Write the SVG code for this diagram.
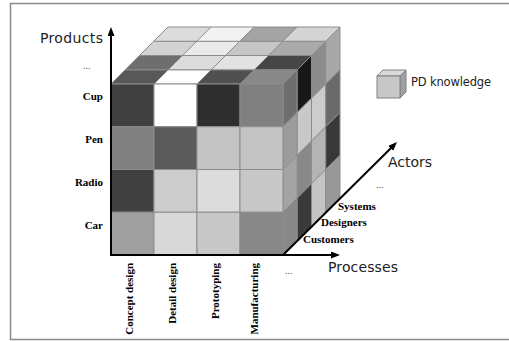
<svg xmlns="http://www.w3.org/2000/svg" width="509" height="341" viewBox="0 0 509 341">
<style>
.c{stroke:#8c8c8c;stroke-width:1;stroke-linejoin:round}
.ax{stroke:#000;stroke-width:2;fill:none}
.sans{font-family:"DejaVu Sans","Liberation Sans",sans-serif;fill:#222}
.ser{font-family:"Liberation Serif","Times New Roman",serif;font-weight:bold;font-size:11px;fill:#000}
.dots{font-family:"Liberation Serif",serif;font-size:10px;fill:#555}
</style>
<defs>
<marker id="ah" markerUnits="userSpaceOnUse" markerWidth="10" markerHeight="8" refX="1" refY="3.5" orient="auto">
<path d="M0,0 L9,3.5 L0,7 z" fill="#000"/>
</marker>
</defs>
<rect width="509" height="341" fill="#fff"/>
<rect x="10.5" y="3.5" width="520" height="336" fill="none" stroke="#8a8a8a" stroke-width="1.5"/>

<g id="cube">
<g id="top-face">
<polygon class="c" fill="#585858" points="111,84 154,84 168.25,69.75 125.25,69.75"/>
<polygon class="c" fill="#ffffff" points="154,84 197,84 211.25,69.75 168.25,69.75"/>
<polygon class="c" fill="#505050" points="197,84 240,84 254.25,69.75 211.25,69.75"/>
<polygon class="c" fill="#888888" points="240,84 283,84 297.25,69.75 254.25,69.75"/>
<polygon class="c" fill="#6e6e6e" points="125.25,69.75 168.25,69.75 182.5,55.5 139.5,55.5"/>
<polygon class="c" fill="#dcdcdc" points="168.25,69.75 211.25,69.75 225.5,55.5 182.5,55.5"/>
<polygon class="c" fill="#e2e2e2" points="211.25,69.75 254.25,69.75 268.5,55.5 225.5,55.5"/>
<polygon class="c" fill="#464646" points="254.25,69.75 297.25,69.75 311.5,55.5 268.5,55.5"/>
<polygon class="c" fill="#d2d2d2" points="139.5,55.5 182.5,55.5 196.75,41.25 153.75,41.25"/>
<polygon class="c" fill="#eaeaea" points="182.5,55.5 225.5,55.5 239.75,41.25 196.75,41.25"/>
<polygon class="c" fill="#c6c6c6" points="225.5,55.5 268.5,55.5 282.75,41.25 239.75,41.25"/>
<polygon class="c" fill="#aaaaaa" points="268.5,55.5 311.5,55.5 325.75,41.25 282.75,41.25"/>
<polygon class="c" fill="#dcdcdc" points="153.75,41.25 196.75,41.25 211,27 168,27"/>
<polygon class="c" fill="#f2f2f2" points="196.75,41.25 239.75,41.25 254,27 211,27"/>
<polygon class="c" fill="#a4a4a4" points="239.75,41.25 282.75,41.25 297,27 254,27"/>
<polygon class="c" fill="#d4d4d4" points="282.75,41.25 325.75,41.25 340,27 297,27"/>
</g>
<g id="right-face">
<polygon class="c" fill="#6e6e6e" points="283,84 297.25,69.75 297.25,112.5 283,126.75"/>
<polygon class="c" fill="#9c9c9c" points="283,126.75 297.25,112.5 297.25,155.25 283,169.5"/>
<polygon class="c" fill="#a4a4a4" points="283,169.5 297.25,155.25 297.25,198 283,212.25"/>
<polygon class="c" fill="#888888" points="283,212.25 297.25,198 297.25,240.75 283,255"/>
<polygon class="c" fill="#181818" points="297.25,69.75 311.5,55.5 311.5,98.25 297.25,112.5"/>
<polygon class="c" fill="#c8c8c8" points="297.25,112.5 311.5,98.25 311.5,141 297.25,155.25"/>
<polygon class="c" fill="#888888" points="297.25,155.25 311.5,141 311.5,183.75 297.25,198"/>
<polygon class="c" fill="#3a3a3a" points="297.25,198 311.5,183.75 311.5,226.5 297.25,240.75"/>
<polygon class="c" fill="#8c8c8c" points="311.5,55.5 325.75,41.25 325.75,84 311.5,98.25"/>
<polygon class="c" fill="#cccccc" points="311.5,98.25 325.75,84 325.75,126.75 311.5,141"/>
<polygon class="c" fill="#b4b4b4" points="311.5,141 325.75,126.75 325.75,169.5 311.5,183.75"/>
<polygon class="c" fill="#c4c4c4" points="311.5,183.75 325.75,169.5 325.75,212.25 311.5,226.5"/>
<polygon class="c" fill="#a8a8a8" points="325.75,41.25 340,27 340,69.75 325.75,84"/>
<polygon class="c" fill="#6a6a6a" points="325.75,84 340,69.75 340,112.5 325.75,126.75"/>
<polygon class="c" fill="#383838" points="325.75,126.75 340,112.5 340,155.25 325.75,169.5"/>
<polygon class="c" fill="#989898" points="325.75,169.5 340,155.25 340,198 325.75,212.25"/>
</g>
<g id="front-face">
<rect class="c" x="111" y="84" width="43" height="42.75" fill="#404040"/>
<rect class="c" x="154" y="84" width="43" height="42.75" fill="#ffffff"/>
<rect class="c" x="197" y="84" width="43" height="42.75" fill="#2e2e2e"/>
<rect class="c" x="240" y="84" width="43" height="42.75" fill="#808080"/>
<rect class="c" x="111" y="126.75" width="43" height="42.75" fill="#808080"/>
<rect class="c" x="154" y="126.75" width="43" height="42.75" fill="#5a5a5a"/>
<rect class="c" x="197" y="126.75" width="43" height="42.75" fill="#c4c4c4"/>
<rect class="c" x="240" y="126.75" width="43" height="42.75" fill="#c4c4c4"/>
<rect class="c" x="111" y="169.5" width="43" height="42.75" fill="#404040"/>
<rect class="c" x="154" y="169.5" width="43" height="42.75" fill="#cccccc"/>
<rect class="c" x="197" y="169.5" width="43" height="42.75" fill="#dcdcdc"/>
<rect class="c" x="240" y="169.5" width="43" height="42.75" fill="#c8c8c8"/>
<rect class="c" x="111" y="212.25" width="43" height="42.75" fill="#a0a0a0"/>
<rect class="c" x="154" y="212.25" width="43" height="42.75" fill="#d8d8d8"/>
<rect class="c" x="197" y="212.25" width="43" height="42.75" fill="#c8c8c8"/>
<rect class="c" x="240" y="212.25" width="43" height="42.75" fill="#888888"/>
</g>
</g>

<g id="connectors">
<line class="ax" x1="111" y1="256" x2="111" y2="35" marker-end="url(#ah)"/>
<line class="ax" x1="110" y1="255" x2="332" y2="255" marker-end="url(#ah)"/>
<line class="ax" x1="283" y1="255" x2="391.3" y2="147.7" marker-end="url(#ah)"/>
</g>

<g id="axis-labels">
<text class="sans" x="40" y="43" font-size="14" textLength="63">Products</text>
<text class="sans" x="328" y="272" font-size="14" textLength="70">Processes</text>
<text class="sans" x="388" y="167" font-size="14" textLength="44">Actors</text>
<text class="dots" x="83" y="69">...</text>
<text class="dots" x="285" y="274">...</text>
<text class="dots" x="376" y="188">...</text>
</g>

<g id="product-labels">
<text class="ser" x="103" y="100" text-anchor="end">Cup</text>
<text class="ser" x="103" y="143" text-anchor="end">Pen</text>
<text class="ser" x="103" y="186" text-anchor="end">Radio</text>
<text class="ser" x="103" y="229" text-anchor="end">Car</text>
</g>

<g id="process-labels">
<text class="ser" transform="translate(133,263) rotate(-90)" text-anchor="end">Concept design</text>
<text class="ser" transform="translate(176,263) rotate(-90)" text-anchor="end">Detail design</text>
<text class="ser" transform="translate(219,263) rotate(-90)" text-anchor="end">Prototyping</text>
<text class="ser" transform="translate(258,263) rotate(-90)" text-anchor="end">Manufacturing</text>
</g>

<g id="actor-labels">
<text class="ser" x="338" y="210">Systems</text>
<text class="ser" x="321" y="226">Designers</text>
<text class="ser" x="303" y="243">Customers</text>
</g>

<g id="legend">
<polygon points="377,76 400,76 406,70 383,70" fill="#dadada" stroke="#808080" stroke-width="1"/>
<polygon points="400,76 406,70 406,92 400,98" fill="#a0a0a0" stroke="#808080" stroke-width="1"/>
<rect x="377" y="76" width="23" height="22" fill="#c8c8c8" stroke="#808080" stroke-width="1"/>
<text class="sans" x="411" y="86" font-size="11.5" textLength="80">PD knowledge</text>
</g>
</svg>
